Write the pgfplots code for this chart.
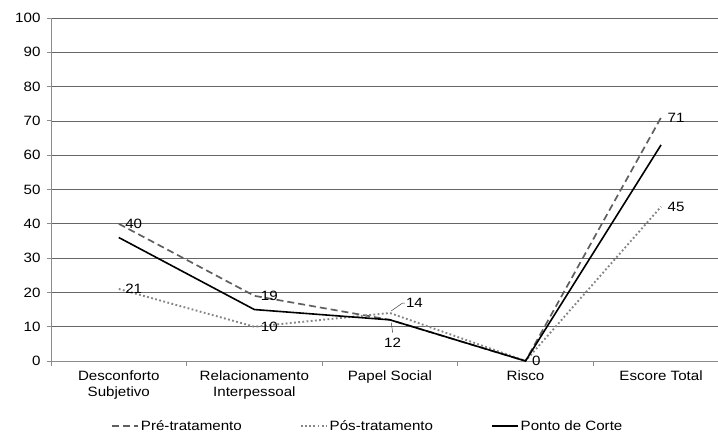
\documentclass[border=0pt]{standalone}
\usepackage{fontspec}
\setmainfont{Liberation Sans}[FakeStretch=1.12]
\usepackage{pgfplots}
\pgfplotsset{compat=1.18}

\definecolor{preCol}{HTML}{5F5F5F}
\definecolor{posCol}{HTML}{858585}
\definecolor{gridCol}{HTML}{666666}
\definecolor{axisCol}{HTML}{8C8C8C}

\begin{document}
\begin{tikzpicture}[font=\fontsize{13.5}{16}\selectfont]
\path[use as bounding box] (-51pt,-74pt) rectangle (667pt,18pt+343pt);
\begin{axis}[
  at={(0,0)}, anchor=south west,
  scale only axis, width=667pt, height=343pt,
  xmin=-0.5, xmax=4.42, ymin=0, ymax=100,
  clip=false,
  axis x line*=bottom, axis y line*=left,
  axis line style={axisCol, line width=0.8pt},
  ytick={0,10,...,100},
  ymajorgrids, grid style={gridCol, line width=0.7pt},
  xtick={0,1,2,3,4},
  xticklabels={{Desconforto\\Subjetivo},{Relacionamento\\Interpessoal},Papel Social,Risco,Escore Total},
  xticklabel style={align=center, yshift=-2pt},
  minor xtick={-0.5,0.5,1.5,2.5,3.5},
  every major x tick/.append style={draw=none},
  every minor x tick/.append style={draw=axisCol, line width=0.8pt},
  every major y tick/.append style={draw=axisCol, line width=0.8pt},
  tick align=outside, major tick length=4pt, minor tick length=5pt,
  yticklabel style={xshift=-3pt},
  /pgf/number format/assume math mode=true,
  legend columns=3,
  legend style={draw=none, fill=none, at={(0.475,-0.19)}, anchor=center,
    /tikz/every even column/.append style={column sep=56pt},
    font=\fontsize{13.5}{16}\selectfont},
  legend image code/.code={\draw[#1] (0pt,0pt) -- (26pt,0pt);},
]
\addplot[preCol, line width=1.7pt, dash pattern=on 7pt off 4pt]
  coordinates {(0,40) (1,19) (2,12) (3,0) (4,71)};
\addlegendentry{Pré-tratamento}
\addplot[posCol, line width=1.9pt, dash pattern=on 1.8pt off 2.4pt]
  coordinates {(0,21) (1,10) (2,14) (3,0) (4,45)};
\addlegendentry{Pós-tratamento}
\addplot[black, line width=1.6pt]
  coordinates {(0,36) (1,15) (2,12) (3,0) (4,63)};
\addlegendentry{Ponto de Corte}

% value labels
\node[anchor=west, xshift=3pt] at (axis cs:0,40) {40};
\node[anchor=west, xshift=3pt] at (axis cs:0,21) {21};
\node[anchor=west, xshift=3pt] at (axis cs:1,19) {19};
\node[anchor=west, xshift=3pt] at (axis cs:1,10) {10};
\node[anchor=west, xshift=3pt] at (axis cs:3,0) {0};
\node[anchor=west, xshift=3pt] at (axis cs:4,71) {71};
\node[anchor=west, xshift=3pt] at (axis cs:4,45) {45};
% labels with leader lines
\draw[black!75, line width=0.5pt] (axis cs:2.01,14.6) -- (axis cs:2.093,16.9) -- (axis cs:2.11,16.9);
\node[anchor=west, inner sep=1pt] at (axis cs:2.11,16.9) {14};
\draw[black!75, line width=0.5pt] (axis cs:2.01,11.2) -- (axis cs:2.02,8.3);
\node[inner sep=1pt] at (axis cs:2.02,5.2) {12};
\end{axis}
\end{tikzpicture}
\end{document}
